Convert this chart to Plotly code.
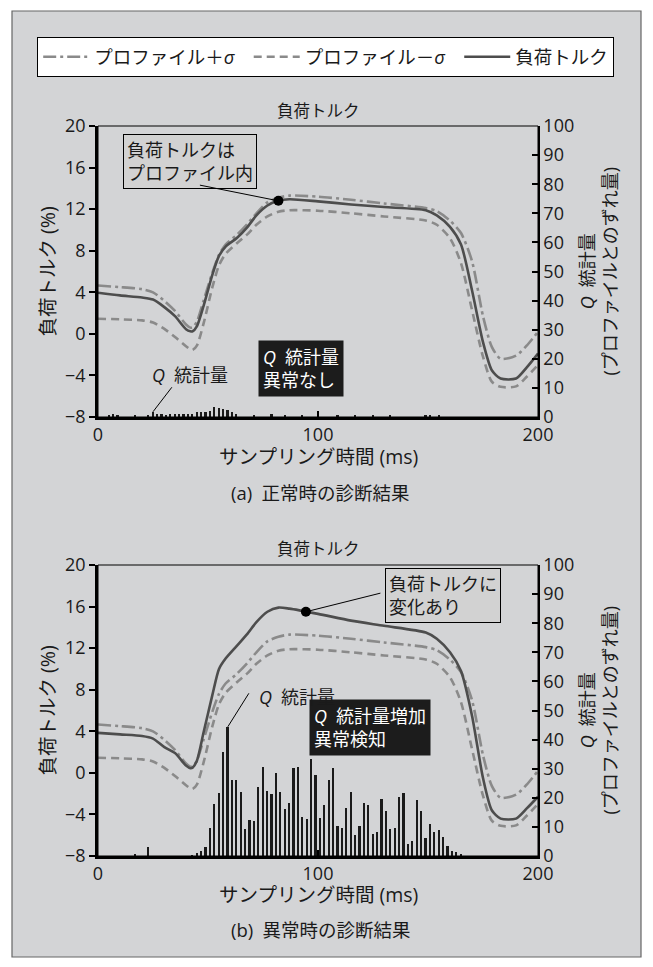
import plotly.graph_objects as go

# ---------------- data ----------------
t_curve = [0, 10, 20, 25, 30, 35, 40, 42, 43, 45, 48, 52, 55, 58, 63, 68, 72, 77, 82, 87,
           100, 115, 130, 149, 154, 160, 165, 170, 175, 179, 183, 190, 195, 200]

profile_plus = [4.65, 4.5, 4.3, 4.0, 3.2, 2.2, 0.9, 0.6, 0.6, 1.2, 3.2, 5.9, 7.6, 8.6, 9.5, 10.6, 11.6, 12.65, 13.1, 13.3,
                13.2, 12.9, 12.55, 12.1, 11.8, 10.9, 9.7, 7.0, 1.7, -1.25, -2.4, -2.1, -1.1, 0.2]
profile_minus = [1.45, 1.4, 1.3, 1.1, 0.5, -0.3, -1.2, -1.5, -1.55, -1.1, 1.0, 4.5, 6.6, 7.7, 8.7, 9.6, 10.5, 11.3, 11.75, 11.9,
                 11.85, 11.6, 11.3, 10.9, 10.5, 9.2, 6.8, 2.3, -2.2, -4.6, -5.1, -5.05, -4.1, -3.0]
torque_a = [3.95, 3.7, 3.5, 3.3, 2.6, 1.7, 0.45, 0.25, 0.25, 0.75, 2.7, 5.7, 7.5, 8.4, 9.2, 10.3, 11.4, 12.35, 12.8, 12.95,
            12.75, 12.45, 12.2, 11.9, 11.4, 10.3, 8.6, 4.2, -0.8, -3.5, -4.3, -4.3, -3.2, -1.9]
torque_b = [3.85, 3.7, 3.55, 3.3, 2.5, 1.9, 0.7, 0.45, 0.5, 1.2, 3.9, 7.5, 10.0, 11.0, 12.2, 13.4, 14.5, 15.5, 15.9, 15.8,
            15.3, 14.65, 14.15, 13.5, 12.9, 11.6, 9.8, 5.5, -0.5, -3.6, -4.4, -4.4, -3.4, -2.3]

t_q = list(range(1, 200, 2))
q_a = [0, 0, 0.5, 0.9, 0.5, 0, 0, 0, 0.5, 0,
       0, 0.5, 1.8, 1.2, 0.9, 0.7, 0.9, 0.9, 1.0, 1.0,
       1.2, 1.2, 1.8, 1.8, 1.8, 2.1, 3.6, 3.0, 2.6, 2.5,
       1.8, 0.9, 0, 0, 0, 0.7, 0, 0, 0, 0.9,
       0, 0, 0.7, 0, 0, 0, 0.7, 0, 0, 0,
       0, 0, 0, 0, 0.4, 0, 0, 0, 0.4, 0,
       0, 0, 0.4, 0, 0, 0, 0.4, 0, 0, 0,
       0, 0, 0, 0, 0.7, 0.5, 0, 0.4, 0, 0,
       0, 0, 0, 0, 0, 0, 0, 0, 0, 0,
       0, 0, 0, 0, 0, 0, 0, 0, 0, 0]
q_b = [0, 0, 0, 0, 0, 0, 0, 0, 0.7, 0,
       0, 3.0, 0, 0, 0, 0, 0, 0, 0, 0,
       0, 0.3, 1.0, 1.8, 3.0, 9.5, 17.9, 21.5, 35.8, 44.4,
       26.1, 26.1, 21.9, 9.2, 12.4, 12.1, 23.8, 30.5, 22.3, 21.3,
       28.4, 22.0, 16.2, 18.3, 30.1, 30.7, 13.5, 12.7, 33.3, 27.8,
       13.2, 17.5, 26.1, 30.1, 10.4, 9.7, 16.4, 22.1, 7.2, 10.4,
       18.1, 17.5, 7.6, 8.2, 19.6, 15.6, 9.3, 9.5, 20.2, 21.8,
       4.0, 5.3, 19.2, 15.6, 6.1, 11.0, 8.1, 8.9, 6.6, 3.4,
       1.7, 1.3, 0.6, 0, 0, 0, 0, 0, 0, 0,
       0, 0, 0, 0, 0, 0, 0, 0, 0, 0]

mark_a = (82, 12.8)
mark_b = (94.5, 15.5)

torque_ticks = [-8, -4, 0, 4, 8, 12, 16, 20]
q_ticks = [0, 10, 20, 30, 40, 50, 60, 70, 80, 90, 100]
time_ticks = [0, 100, 200]

# ---------------- layout helpers ----------------
W, H = 653, 967
FONT = "Open Sans, Noto Sans CJK JP"
def fx(px): return px / W
def fy(py): return 1 - py / H

X_DOM = [fx(98), fx(538)]
Y_TOP = [fy(417), fy(126)]
Y_BOT = [fy(856), fy(565)]

C_SOLID = "#4d4d4d"
C_PROF = "#8a8a8a"
DASHDOT = "13px,4px,3px,4px"
DASH = "8px,5px"
SP = "\u2002"

fig = go.Figure()

def add_panel(xa, ya, yq, torque, q, mark, legend):
    fig.add_trace(go.Bar(x=t_q, y=q, xaxis=xa, yaxis=yq, width=0.75,
                         marker=dict(color="#1a1a1a", line=dict(width=0)),
                         showlegend=False, hoverinfo="skip"))
    fig.add_trace(go.Scatter(x=t_curve, y=profile_plus, xaxis=xa, yaxis=ya, mode="lines",
                             name="プロファイル＋<i>σ</i>" + SP, showlegend=legend,
                             line=dict(color=C_PROF, width=2.6, dash=DASHDOT, shape="spline", smoothing=0.7)))
    fig.add_trace(go.Scatter(x=t_curve, y=profile_minus, xaxis=xa, yaxis=ya, mode="lines",
                             name="プロファイル－<i>σ</i>" + SP, showlegend=legend,
                             line=dict(color=C_PROF, width=2.6, dash=DASH, shape="spline", smoothing=0.7)))
    fig.add_trace(go.Scatter(x=t_curve, y=torque, xaxis=xa, yaxis=ya, mode="lines",
                             name="負荷トルク", showlegend=legend,
                             line=dict(color=C_SOLID, width=2.6, shape="spline", smoothing=0.7)))
    fig.add_trace(go.Scatter(x=[mark[0]], y=[mark[1]], xaxis=xa, yaxis=ya, mode="markers",
                             marker=dict(color="black", size=10), showlegend=False, hoverinfo="skip"))

add_panel("x", "y", "y2", torque_a, q_a, mark_a, True)
add_panel("x2", "y3", "y4", torque_b, q_b, mark_b, False)

tickfont = dict(family=FONT, size=18, color="#1a1a1a")

def xaxis_cfg(anchor):
    return dict(domain=X_DOM, anchor=anchor, range=[0, 200], tickvals=time_ticks,
                ticks="inside", ticklen=6, tickwidth=1.5, tickcolor="black", automargin=False,
                showline=True, linewidth=2.5, linecolor="black", showgrid=False, zeroline=False,
                tickfont=tickfont, ticklabelstandoff=0)

def yleft_cfg(dom, anchor):
    return dict(domain=dom, anchor=anchor, range=[-8, 20], tickvals=torque_ticks,
                ticks="outside", ticklen=6, tickwidth=1.5, tickcolor="black", automargin=False,
                showline=True, linewidth=2.5, linecolor="black", showgrid=False, zeroline=False,
                tickfont=tickfont)

def yright_cfg(over, anchor):
    return dict(overlaying=over, side="right", anchor=anchor, range=[0, 100], tickvals=q_ticks,
                ticks="inside", ticklen=6, tickwidth=1.5, tickcolor="black", automargin=False,
                showline=True, linewidth=1.5, linecolor="black", showgrid=False, zeroline=False,
                tickfont=tickfont)

ann = []
def text(px, py, s, size=16, color="#1a1a1a", angle=0, **kw):
    ann.append(dict(x=fx(px), y=fy(py), xref="paper", yref="paper", text=s, showarrow=False,
                    font=dict(family=FONT, size=size, color=color), textangle=angle,
                    xanchor="center", yanchor="middle", **kw))

def leader(xr, yr, x, y, ax, ay):
    ann.append(dict(x=x, y=y, xref=xr, yref=yr, text="", showarrow=True, arrowhead=0,
                    arrowwidth=1, arrowcolor="black", ax=ax, ay=ay, standoff=0, startstandoff=0))

QTXT = "<i>Q</i>" + SP + "統計量"
for (cy, ttl_y, xt_y, cap_y, cap) in [(271.5, 110, 457, 492, "(a)" + SP + "正常時の診断結果"),
                                     (710.5, 548, 894, 929, "(b)" + SP + "異常時の診断結果")]:
    text(318, ttl_y, "負荷トルク", 16.5)
    text(318, xt_y, "サンプリング時間 (ms)", 19.5)
    text(320, cap_y, cap, 18.5)
    text(47, cy, "負荷トルク (%)", 19.5, angle=-90)
    text(598, cy, QTXT + "<br>(プロファイルとのずれ量)", 18, angle=-90)

# top panel callouts
text(190, 161, "負荷トルクは<br>プロファイル内", 18, align="left", bgcolor="#d2d2d2",
     bordercolor="black", borderwidth=1, borderpad=3)
leader("x", "y", mark_a[0], mark_a[1], -80, -16)
text(301, 368, QTXT + "<br>異常なし", 18, color="white", align="left",
     bgcolor="#1c1c1c", borderpad=4)
text(190, 375, QTXT, 18)
leader("x", "y2", 25, q_a[12], 20, -26)

# bottom panel callouts
text(443, 595.5, "負荷トルクに<br>変化あり", 18, align="left", bgcolor="#d2d2d2",
     bordercolor="black", borderwidth=1, borderpad=3)
leader("x2", "y3", mark_b[0], mark_b[1], 76, -19)
text(369.5, 727.5, QTXT + "増加<br>異常検知", 18, color="white", align="left",
     bgcolor="#1c1c1c", borderpad=4)
text(297, 697, QTXT, 18)
leader("x2", "y4", 59, q_b[29], 22, -35)

shapes = [
    dict(type="rect", xref="paper", yref="paper", x0=fx(12), x1=fx(641), y0=fy(957), y1=fy(11),
         fillcolor="#d3d4d6", line=dict(color="#666666", width=1.2), layer="below"),
    dict(type="rect", xref="x domain", yref="y domain", x0=0, x1=1, y0=0, y1=1,
         line=dict(color="black", width=1)),
    dict(type="rect", xref="x2 domain", yref="y3 domain", x0=0, x1=1, y0=0, y1=1,
         line=dict(color="black", width=1)),
]

fig.update_layout(
    template="none",
    width=W, height=H, margin=dict(l=0, r=0, t=0, b=0, pad=0, autoexpand=False),
    paper_bgcolor="white", plot_bgcolor="white",
    font=dict(family=FONT, color="#1a1a1a"),
    xaxis=xaxis_cfg("y"), yaxis=yleft_cfg(Y_TOP, "x"), yaxis2=yright_cfg("y", "x"),
    xaxis2=xaxis_cfg("y3"), yaxis3=yleft_cfg(Y_BOT, "x2"), yaxis4=yright_cfg("y3", "x2"),
    bargap=0,
    showlegend=True,
    legend=dict(orientation="h", x=fx(325.5), xanchor="center", y=fy(57), yanchor="middle",
                bgcolor="white", bordercolor="black", borderwidth=1.2,
                font=dict(family=FONT, size=18.5, color="#1a1a1a"),
                itemwidth=46, traceorder="normal"),
    annotations=ann, shapes=shapes,
)

post = "document.body.style.margin='0';document.body.style.padding='0';"
fig.write_html("out.html", config={"displayModeBar": False}, post_script=post)
